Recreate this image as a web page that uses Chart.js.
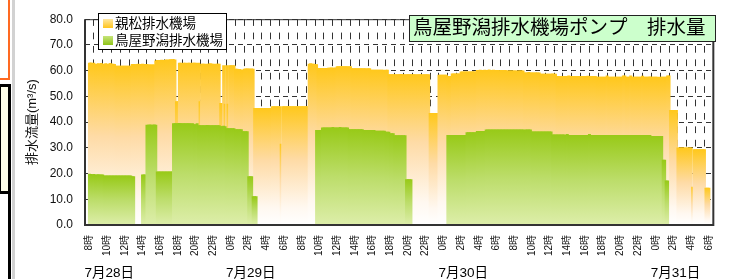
<!DOCTYPE html>
<html>
<head>
<meta charset="utf-8">
<script src="https://cdn.jsdelivr.net/npm/chart.js@4"></script>
<style>
  body { margin: 0; background: #fff; }
  #wrap { position: relative; width: 731px; height: 279px; overflow: hidden; }
  .edge { position: absolute; }
</style>
</head>
<body>
<div id="wrap">
  <!-- bits of the surrounding page that show at the left edge -->
  <div class="edge" style="left:0;top:-2px;width:8px;height:80px;border-right:2px solid #ff6a22;border-bottom:2px solid #ff6a22;"></div>
  <div class="edge" style="left:12px;top:0;width:3px;height:279px;background:#d2d2d2;"></div>
  <div class="edge" style="left:-2px;top:84px;width:7px;height:104px;background:#ffffea;border:3px solid #000;"></div>
  <div class="edge" style="left:0;top:191px;width:8px;height:90px;border-right:3px solid #000;"></div>
  <canvas id="pump-chart" width="731" height="279" style="position:absolute;left:0;top:0;"></canvas>
</div>
<script>
const chartTitle = '鳥屋野潟排水機場ポンプ　排水量'
const seriesNames = ['親松排水機場', '鳥屋野潟排水機場']
const yTitle = '排水流量(m³/s)'
const dayLabels = ['7月28日', '7月29日', '7月30日', '7月31日']
const dayStarts = [0, 16, 40, 64]   // hours after 7/28 8時
const stepMinutes = 10

// 親松排水機場 (m3/s), one row per hour, 10 minute steps from 7/28 8時
const oyamatsu = [
  62.9, 63.0, 62.8, 62.9, 62.5, 62.6,  // 7/28 8時
  62.7, 62.6, 62.8, 62.6, 62.5, 62.7,
  62.6, 62.5, 62.8, 62.6, 62.6, 62.5,  // 10時
  61.8, 61.8, 61.8, 61.8, 61.8, 61.8,
  61.8, 61.8, 61.8, 61.8, 61.8, 62.5,  // 12時
  62.5, 62.4, 62.5, 62.6, 62.5, 62.5,
  62.6, 62.5, 62.5, 62.5, 62.3, 62.3,  // 14時
  62.3, 62.3, 62.3, 63.8, 64.0, 64.0,
  64.0, 64.1, 64.0, 64.0, 64.2, 64.1,  // 16時
  64.2, 64.3, 64.3, 64.3, 64.2, 48.0,
  48.0, 62.9, 62.9, 62.8, 62.9, 62.9,  // 18時
  62.8, 62.9, 62.9, 62.8, 62.9, 62.9,
  62.9, 62.8, 62.9, 48.0, 62.6, 62.6,  // 20時
  62.6, 62.5, 62.6, 62.6, 62.7, 62.6,
  62.6, 62.5, 62.6, 62.6, 62.6, 47.3,  // 22時
  47.3, 62.0, 47.0, 62.0, 47.0, 62.0,
  62.0, 62.0, 62.0, 60.6, 60.6, 60.5,  // 7/29 0時
  60.5, 60.2, 60.2, 60.6, 60.7, 60.7,
  60.7, 60.6, 60.7, 60.6, 45.4, 45.4,  // 2時
  45.4, 45.4, 45.4, 45.4, 45.4, 45.4,
  45.4, 45.4, 45.4, 45.4, 46.0, 46.0,  // 4時
  46.0, 46.0, 46.0, 46.0, 31.5, 46.0,
  46.0, 46.0, 46.0, 46.0, 46.0, 46.0,  // 6時
  46.0, 46.0, 46.0, 46.0, 46.0, 46.0,
  46.0, 46.0, 46.0, 46.0, 46.0, 62.6,  // 8時
  62.7, 62.6, 62.6, 62.5, 62.4, 60.9,
  60.9, 60.9, 60.9, 60.9, 60.9, 60.9,  // 10時
  61.0, 61.0, 61.1, 61.0, 61.0, 61.1,
  61.6, 61.6, 61.6, 61.6, 61.6, 61.6,  // 12時
  61.6, 61.6, 61.5, 61.6, 60.8, 60.8,
  60.8, 60.8, 60.8, 60.8, 60.8, 60.8,  // 14時
  60.8, 60.8, 60.7, 60.8, 60.8, 60.2,
  60.2, 60.2, 60.2, 60.2, 60.2, 60.2,  // 16時
  60.2, 60.2, 60.1, 60.2, 60.2, 58.5,
  58.5, 58.5, 58.5, 58.5, 58.5, 58.5,  // 18時
  58.5, 58.6, 58.5, 58.5, 58.4, 58.5,
  58.5, 58.5, 58.5, 58.5, 58.5, 58.5,  // 20時
  58.4, 58.5, 58.5, 58.5, 58.4, 58.5,
  58.5, 58.5, 58.5, 43.4, 43.4, 43.4,  // 22時
  43.4, 43.4, 43.4, 58.3, 58.3, 58.3,
  58.3, 58.3, 58.3, 57.8, 57.8, 57.8,  // 7/30 0時
  58.8, 58.8, 58.8, 58.8, 58.8, 58.8,
  59.5, 59.5, 59.5, 59.5, 59.5, 59.5,  // 2時
  59.5, 59.5, 59.6, 59.5, 59.5, 60.1,
  60.1, 60.2, 60.1, 60.1, 60.2, 60.1,  // 4時
  60.1, 60.3, 60.1, 60.1, 60.2, 60.1,
  60.1, 60.1, 60.0, 60.1, 60.1, 60.1,  // 6時
  60.1, 59.9, 59.9, 59.9, 59.9, 59.9,
  59.9, 59.9, 59.8, 59.9, 59.9, 59.9,  // 8時
  59.9, 59.2, 59.2, 59.2, 59.3, 59.2,
  59.2, 59.2, 59.2, 59.2, 59.2, 59.2,  // 10時
  58.7, 58.7, 58.7, 58.7, 58.7, 58.7,
  58.7, 58.7, 58.8, 58.7, 58.7, 57.8,  // 12時
  57.8, 57.8, 57.8, 57.8, 57.8, 57.8,
  57.8, 58.0, 57.8, 57.8, 57.8, 57.8,  // 14時
  57.8, 57.8, 57.8, 57.8, 57.8, 57.8,
  57.8, 57.8, 57.9, 57.8, 57.8, 57.8,  // 16時
  57.8, 57.8, 57.5, 57.5, 57.5, 57.5,
  57.5, 57.5, 57.5, 58.0, 57.5, 57.5,  // 18時
  57.5, 57.5, 57.5, 57.5, 57.5, 57.5,
  57.5, 57.5, 58.0, 58.0, 57.5, 57.5,  // 20時
  57.5, 58.0, 57.5, 57.5, 57.5, 57.5,
  57.5, 57.5, 57.5, 57.9, 57.5, 57.5,  // 22時
  57.5, 57.5, 57.6, 57.5, 57.5, 57.5,
  57.5, 57.5, 57.4, 57.5, 57.5, 57.5,  // 7/31 0時
  57.5, 57.5, 58.0, 58.0, 44.6, 44.6,
  44.6, 44.6, 44.6, 30.0, 30.0, 30.0,  // 2時
  30.0, 30.0, 30.0, 30.0, 30.0, 30.0,
  30.0, 14.7, 29.3, 29.3, 29.3, 29.3,  // 4時
  29.3, 29.3, 29.3, 29.3, 14.4, 14.4,
  14.4                                 // 6時
]

// 鳥屋野潟排水機場 (m3/s), same time steps
const toyanogata = [
  19.8, 19.7, 19.6, 19.7, 19.5, 19.5,  // 7/28 8時
  19.6, 19.5, 19.5, 19.5, 19.1, 19.1,
  19.1, 19.1, 19.1, 19.1, 19.1, 19.1,  // 10時
  19.1, 19.1, 19.1, 19.1, 19.1, 19.1,
  19.1, 19.1, 19.1, 19.1, 19.1, 18.8,  // 12時
  18.8, 0, 0, 0, 0, 0,
  19.5, 19.5, 19.5, 38.8, 38.8, 38.9,  // 14時
  38.8, 38.8, 38.9, 38.8, 20.7, 20.7,
  20.7, 20.7, 20.7, 20.7, 20.7, 20.7,  // 16時
  20.7, 20.7, 20.7, 39.4, 39.4, 39.4,
  39.4, 39.5, 39.4, 39.4, 39.4, 39.4,  // 18時
  39.4, 39.4, 39.4, 39.3, 39.4, 39.0,
  39.0, 39.4, 38.6, 38.6, 38.6, 38.6,  // 20時
  38.6, 38.6, 38.7, 38.6, 38.6, 38.6,
  38.6, 38.6, 38.6, 38.6, 38.6, 38.3,  // 22時
  38.3, 38.5, 38.3, 37.5, 37.5, 37.5,
  37.5, 37.5, 37.5, 37.1, 37.1, 37.1,  // 7/29 0時
  37.1, 37.1, 36.3, 36.3, 36.3, 36.3,
  18.8, 18.8, 18.8, 11.0, 11.0, 11.0,  // 2時
  0, 0, 0, 0, 0, 0,
  0, 0, 0, 0, 0, 0,                    // 4時
  0, 0, 0, 0, 0, 0,
  0, 0, 0, 0, 0, 0,                    // 6時
  0, 0, 0, 0, 0, 0,
  0, 0, 0, 0, 0, 0,                    // 8時
  0, 0, 0, 0, 36.8, 36.8,
  36.8, 36.8, 37.8, 37.8, 37.8, 37.8,  // 10時
  37.8, 37.8, 37.8, 38.0, 37.8, 37.8,
  37.8, 37.8, 38.0, 37.8, 37.8, 37.8,  // 12時
  37.8, 37.8, 37.1, 37.1, 37.1, 37.1,
  37.1, 37.1, 37.1, 37.1, 37.1, 37.1,  // 14時
  36.8, 36.8, 36.8, 36.8, 36.8, 36.8,
  36.8, 36.8, 36.5, 36.5, 36.5, 36.5,  // 16時
  36.5, 36.5, 36.5, 36.1, 36.1, 36.1,
  35.5, 35.5, 35.5, 34.8, 34.8, 34.8,  // 18時
  34.8, 34.8, 34.8, 34.8, 34.8, 17.7,
  17.7, 17.7, 17.7, 0, 0, 0,           // 20時
  0, 0, 0, 0, 0, 0,
  0, 0, 0, 0, 0, 0,                    // 22時
  0, 0, 0, 0, 0, 0,
  0, 0, 0, 34.9, 34.9, 34.9,           // 7/30 0時
  34.9, 34.9, 34.9, 34.9, 34.9, 34.9,
  34.9, 34.9, 34.9, 34.9, 35.9, 35.9,  // 2時
  35.9, 35.9, 35.9, 35.9, 35.9, 36.4,
  36.4, 36.4, 36.4, 36.4, 36.4, 37.0,  // 4時
  37.0, 37.0, 37.0, 37.0, 37.0, 37.0,
  37.0, 37.0, 37.0, 37.0, 37.0, 37.0,  // 6時
  37.0, 37.0, 37.0, 37.0, 37.0, 37.0,
  37.0, 37.0, 37.0, 37.0, 37.0, 37.0,  // 8時
  37.0, 36.9, 37.0, 37.0, 37.0, 37.0,
  36.2, 36.2, 36.2, 36.2, 36.2, 36.2,  // 10時
  36.2, 36.2, 36.2, 36.2, 36.2, 36.2,
  36.2, 36.2, 35.1, 35.1, 35.1, 35.1,  // 12時
  35.1, 35.1, 35.1, 35.1, 35.1, 34.9,
  35.2, 34.9, 34.9, 34.9, 34.9, 34.9,  // 14時
  34.9, 34.9, 34.9, 34.9, 34.9, 34.9,
  34.9, 34.9, 34.9, 35.2, 34.9, 34.9,  // 16時
  34.9, 34.9, 34.9, 34.9, 34.9, 34.9,
  34.9, 34.9, 34.9, 34.9, 34.9, 34.9,  // 18時
  34.9, 34.9, 34.9, 34.9, 34.9, 34.9,
  34.9, 34.9, 34.9, 34.9, 34.9, 34.9,  // 20時
  34.9, 34.9, 34.9, 34.9, 34.9, 34.9,
  34.9, 34.9, 34.9, 34.9, 34.9, 34.9,  // 22時
  34.9, 34.9, 34.9, 34.5, 34.5, 34.5,
  34.5, 34.5, 34.5, 34.5, 34.5, 25.2,  // 7/31 0時
  25.2, 17.2, 17.2, 0, 0, 0,
  0, 0, 0, 0, 0, 0,                    // 2時
  0, 0, 0, 0, 0, 0,
  0, 0, 0, 0, 0, 0,                    // 4時
  0, 0, 0, 0, 0, 0,
  0                                    // 6時
]

const FONT = "'Liberation Sans', 'Noto Sans CJK JP', sans-serif"
const orangeStops = [[0, '#ffc81c'], [0.45, '#fedba6'], [0.85, '#fff8f0'], [1, '#ffffff']]
const greenStops = [[0, '#98ca18'], [0.5, '#bcdd6a'], [1, '#ddeeaa']]

// each bar fades from its own top down to the axis
const barGradient = (stops) => (context) => {
  const chart = context.chart
  if (!chart.chartArea || context.type !== 'data') return stops[0][1]
  const v = context.parsed.y
  if (!v) return 'rgba(0,0,0,0)'
  const y = chart.scales.y
  const top = y.getPixelForValue(v)
  const bottom = y.getPixelForValue(0)
  const g = chart.ctx.createLinearGradient(0, top, 0, bottom)
  stops.forEach(([o, c]) => g.addColorStop(o, c))
  return g
}

const toPoints = (values) => values.map((v, i) => ({ x: i * stepMinutes / 60, y: v }))

const decorations = {
  id: 'decorations',
  afterDatasetsDraw(chart) {
    const { ctx, chartArea: a } = chart
    ctx.save()
    ctx.strokeStyle = '#333'
    ctx.lineWidth = 2
    ctx.beginPath()
    ctx.moveTo(a.left, a.top)
    ctx.lineTo(a.left, a.bottom)
    ctx.lineTo(a.right, a.bottom)
    ctx.lineTo(a.right, a.top)
    ctx.stroke()
    ctx.lineWidth = 1
    ctx.beginPath()
    ctx.moveTo(a.left, a.top + 0.5)
    ctx.lineTo(a.right, a.top + 0.5)
    ctx.stroke()
    ctx.restore()
  },
  afterDraw(chart) {
    const { ctx } = chart
    const xs = chart.scales.x
    ctx.save()

    // legend box
    ctx.fillStyle = '#fff'
    ctx.fillRect(98.5, 13.5, 128, 36)
    ctx.strokeStyle = '#000'
    ctx.lineWidth = 1
    ctx.strokeRect(98.5, 13.5, 128, 36)
    const swatches = [['#ffe7a0', '#ffc41c'], ['#c6e47a', '#8fc418']]
    ctx.font = '13.5px ' + FONT
    ctx.textBaseline = 'middle'
    seriesNames.forEach((name, i) => {
      const sy = 19 + i * 17
      const g = ctx.createLinearGradient(0, sy, 0, sy + 9)
      g.addColorStop(0, swatches[i][0])
      g.addColorStop(1, swatches[i][1])
      ctx.fillStyle = g
      ctx.fillRect(103, sy, 10, 9)
      ctx.fillStyle = '#000'
      ctx.fillText(name, 115, sy + 5)
    })

    // title box
    ctx.fillStyle = '#ccffcc'
    ctx.fillRect(409.5, 15.5, 306, 26)
    ctx.strokeStyle = '#222'
    ctx.strokeRect(409.5, 15.5, 306, 26)
    ctx.fillStyle = '#000'
    ctx.font = '19.5px ' + FONT
    ctx.fillText(chartTitle, 413, 29)

    // dates under the hour labels
    ctx.font = '13.5px ' + FONT
    ctx.textBaseline = 'alphabetic'
    dayLabels.forEach((label, i) => {
      ctx.fillText(label, xs.getPixelForValue(dayStarts[i]) - 5, 277)
    })
    ctx.restore()
  }
}

new Chart(document.getElementById('pump-chart'), {
  type: 'bar',
  data: {
    datasets: [
      {
        label: seriesNames[0],
        data: toPoints(oyamatsu),
        backgroundColor: barGradient(orangeStops),
        order: 2
      },
      {
        label: seriesNames[1],
        data: toPoints(toyanogata),
        backgroundColor: barGradient(greenStops),
        order: 1
      }
    ]
  },
  options: {
    responsive: false,
    animation: false,
    devicePixelRatio: 1,
    layout: { padding: { left: 0, top: 10, right: 14, bottom: 0 } },
    datasets: {
      bar: { grouped: false, barThickness: 2.3, borderWidth: 0 }
    },
    plugins: { legend: { display: false }, tooltip: { enabled: false } },
    scales: {
      x: {
        type: 'linear',
        min: 0,
        max: 70,
        afterFit: (scale) => { scale.height = 54 },
        grid: { color: '#333', lineWidth: 1, drawTicks: false },
        border: { display: false, dash: [6.7, 6.7] },
        ticks: {
          stepSize: 1,
          maxTicksLimit: 100,
          autoSkip: false,
          minRotation: 90,
          maxRotation: 90,
          padding: 10,
          color: '#111',
          font: { family: FONT, size: 10 },
          callback: (v) => v % 2 === 0 ? ((8 + v) % 24) + '時' : ''
        }
      },
      y: {
        min: 0,
        max: 80,
        afterFit: (scale) => { scale.width = 85 },
        grid: { color: '#333', lineWidth: 1, drawTicks: false },
        border: { display: false, dash: [5, 4] },
        ticks: {
          stepSize: 10,
          padding: 12,
          color: '#111',
          font: { family: FONT, size: 12 },
          callback: (v) => v.toFixed(1)
        },
        title: {
          display: true,
          text: yTitle,
          color: '#111',
          font: { family: FONT, size: 13 },
          padding: { top: 25, bottom: 0 }
        }
      }
    }
  },
  plugins: [decorations]
})
</script>
</body>
</html>
